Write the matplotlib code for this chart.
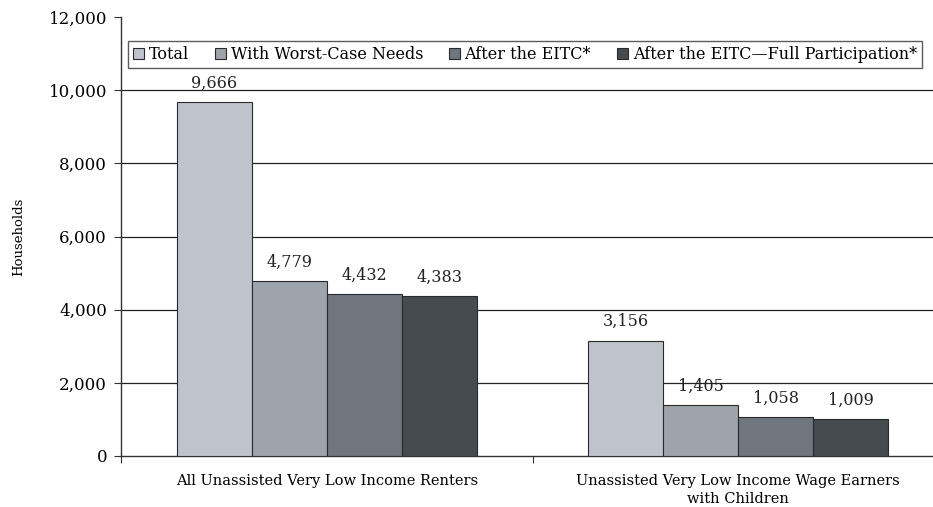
import matplotlib
matplotlib.use('Agg')
import matplotlib.pyplot as plt
import numpy as np
from matplotlib.ticker import FuncFormatter

# ---------------------------------------------------------------------------
# 数据
# ---------------------------------------------------------------------------
categories = ["All Unassisted Very Low Income Renters",
              "Unassisted Very Low Income Wage Earners\nwith Children"]
series_names = ["Total", "With Worst-Case Needs", "After the EITC*",
                "After the EITC\u2014Full Participation*"]
total = [9666, 3156]
worst_case = [4779, 1405]
after_eitc = [4432, 1058]
after_eitc_full = [4383, 1009]

y_ticks = [0, 2000, 4000, 6000, 8000, 10000, 12000]

COLORS = ['#bfc3cb', '#9ea4ab', '#6f767d', '#454b4e']

plt.rcParams['font.family'] = ['DejaVu Serif']

fig = plt.figure(figsize=(9.33, 5.07), dpi=100)
ax = fig.add_axes([121 / 933, 51 / 507, 823 / 933, 439 / 507])

x = np.arange(len(categories))
w = 0.182
for k, (vals, name) in enumerate(zip([total, worst_case, after_eitc, after_eitc_full],
                                     series_names)):
    pos = x + (k - 1.5) * w
    ax.bar(pos, vals, w, color=COLORS[k], edgecolor='#2a2a2a', linewidth=0.8,
           label=name, zorder=3)
    for px, v in zip(pos, vals):
        ax.text(px, v + 280, f"{v:,}", ha='center', va='bottom', fontsize=11.5,
                color='#222222', zorder=4)

ax.set_xlim(-0.5, 1.5)
ax.set_ylim(0, 12000)
ax.set_yticks(y_ticks)
ax.yaxis.set_major_formatter(FuncFormatter(lambda v, p: f"{int(v):,}"))
ax.set_xticks([-0.5, 0.5, 1.5])
ax.set_xticklabels([])
ax.set_xticks(x, minor=True)
ax.set_xticklabels(categories, minor=True, fontsize=10.5, linespacing=1.4)
ax.tick_params(axis='x', which='minor', length=0, pad=13)
ax.tick_params(axis='x', which='major', length=5, color='#333333')
ax.tick_params(axis='y', length=5, color='#333333', labelsize=12, pad=5)

for v in y_ticks[1:-1]:
    ax.axhline(v, color='#222222', linewidth=0.9, zorder=1)

for s in ['top', 'right']:
    ax.spines[s].set_visible(False)
for s in ['left', 'bottom']:
    ax.spines[s].set_color('#333333')
    ax.spines[s].set_linewidth(1.0)

ax.set_ylabel("Households", fontsize=9.5)
ax.yaxis.set_label_coords((25 - 121) / 823, 0.5)

leg = fig.legend(loc='upper left', bbox_to_anchor=(128 / 933, 1 - 41 / 507),
                 ncol=4, fontsize=11.5, frameon=True, fancybox=False,
                 handlelength=0.7, handleheight=0.7, handletextpad=0.3,
                 columnspacing=1.6, borderpad=0.3, borderaxespad=0)
leg.get_frame().set_edgecolor('#333333')
leg.get_frame().set_linewidth(1.0)

fig.savefig("out.png", dpi=100)
